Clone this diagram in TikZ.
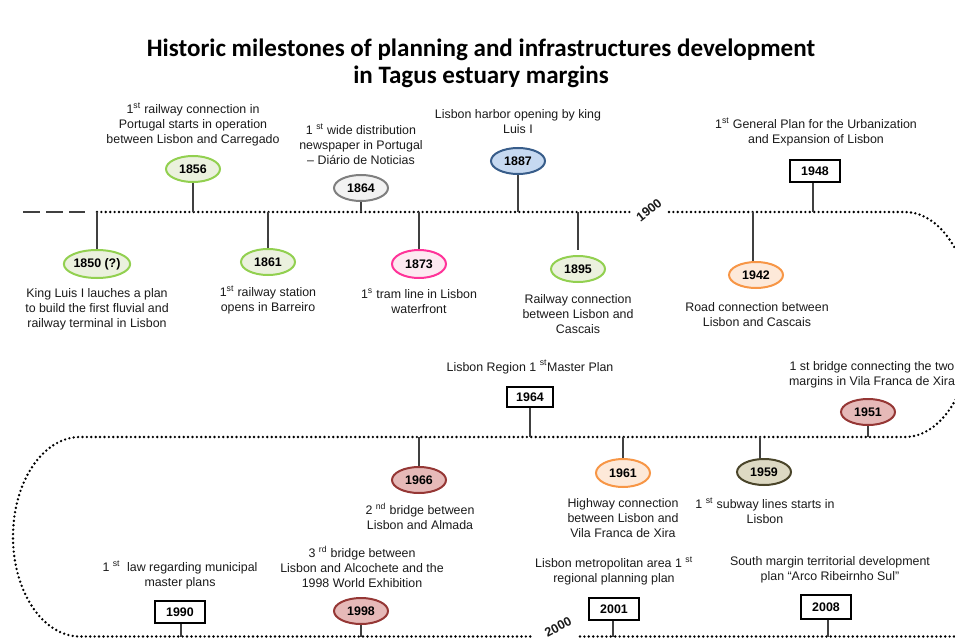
\documentclass[tikz,border=0pt]{standalone}
\usepackage{fontspec}
\setmainfont{Liberation Sans}
\newfontfamily\titlefont{Carlito}
\usetikzlibrary{shapes.geometric}
\definecolor{grnB}{HTML}{92D050}
\definecolor{grnF}{HTML}{EBF1DE}
\definecolor{gryB}{HTML}{7F7F7F}
\definecolor{gryF}{HTML}{F2F2F2}
\definecolor{pnkB}{HTML}{FF3399}
\definecolor{pnkF}{HTML}{FDE9F1}
\definecolor{bluB}{HTML}{385D8A}
\definecolor{bluF}{HTML}{C6D9F1}
\definecolor{orgB}{HTML}{F79646}
\definecolor{orgF}{HTML}{FDE9D9}
\definecolor{redB}{HTML}{953735}
\definecolor{redF}{HTML}{E6B9B8}
\definecolor{olvB}{HTML}{4A452A}
\definecolor{olvF}{HTML}{DDD9C3}
\definecolor{stemc}{HTML}{404040}
\definecolor{txtc}{HTML}{1A1A1A}
\begin{document}
\begin{tikzpicture}[x=0.75pt,y=-0.75pt,
  txt/.style={font=\fontsize{9.3}{11.2}\selectfont, align=center, inner sep=0pt, text=txtc},
  yr/.style={ellipse, line width=1.5pt, minimum width=40.5pt, minimum height=19.5pt, inner sep=0pt, font=\fontsize{9.3}{11}\selectfont\bfseries},
  grn/.style={yr, draw=grnB, fill=grnF},
  gry/.style={yr, draw=gryB, fill=gryF},
  pnk/.style={yr, draw=pnkB, fill=pnkF},
  blu/.style={yr, draw=bluB, fill=bluF},
  org/.style={yr, draw=orgB, fill=orgF},
  red/.style={yr, draw=redB, fill=redF},
  olv/.style={yr, draw=olvB, fill=olvF},
  ybox/.style={rectangle, draw=black, fill=white, line width=1.5pt, minimum width=37.5pt, minimum height=16pt, inner sep=0pt, font=\fontsize{9.3}{11}\selectfont\bfseries},
  stem/.style={draw=stemc, line width=1.3pt},
  dotline/.style={draw=black, line width=2pt, dash pattern=on 0pt off 3.3pt, line cap=round},
  dashline/.style={draw=stemc, line width=1.5pt, dash pattern=on 12.75pt off 4.5pt},
  era/.style={font=\fontsize{9.5}{10}\selectfont\bfseries, inner sep=0pt, text=txtc}
]
\useasboundingbox (0,0) rectangle (955,638);
\clip (0,0) rectangle (955,638);

% title
\node[font=\titlefont\bfseries\fontsize{18.8}{20.5}\selectfont, align=center, inner sep=0pt] (title) at (481,63)
  {Historic milestones of planning and infrastructures development\\in Tagus estuary margins};

% timeline coordinates
\coordinate (d0) at (23,212);
\coordinate (d1) at (85,212);
\coordinate (a0) at (97,212);
\coordinate (a1) at (630,212);
\coordinate (b0) at (669,212);
\coordinate (b1) at (905,212);
\coordinate (m1) at (80,437);
\coordinate (c1) at (533,636.5);
\coordinate (c2) at (580,636.5);
\coordinate (c3) at (960,636.5);

\draw[dashline] (d0) -- (d1);
\draw[dotline] (a0) -- (a1);
\draw[dotline] (b0) -- (b1) arc[start angle=-90, end angle=90, x radius=68, y radius=112.5] -- (m1)
  arc[start angle=-90, end angle=-270, x radius=67, y radius=99.75] -- (c1);
\draw[dotline] (c2) -- (c3);

\node[era, rotate=38] (e1900) at (649,210) {1900};
\node[era, rotate=28] (e2000) at (558,627) {2000};

% ---- upper row, above line
\node[grn] (y1856) at (193,169) {1856};
\node[gry] (y1864) at (361,188) {1864};
\node[blu] (y1887) at (518,161) {1887};
\node[ybox] (y1948) at (815,171) {1948};
\coordinate (s1856) at (193,212);
\coordinate (s1864) at (361,212);
\coordinate (s1887) at (518,212);
\coordinate (s1948) at (813,212);
\draw[stem] (y1856) -- (s1856);
\draw[stem] (y1864) -- (s1864);
\draw[stem] (y1887) -- (s1887);
\draw[stem] (y1948.south -| s1948) -- (s1948);

\node[txt] (t1856) at (193,124) {1\textsuperscript{st} railway connection in\\Portugal starts in operation\\between Lisbon and Carregado};
\node[txt] (t1864) at (361,144) {1 \textsuperscript{st} wide distribution\\newspaper in Portugal\\– Diário de Noticias};
\node[txt] (t1887) at (518,122) {Lisbon harbor opening by king\\Luis I};
\node[txt] (t1948) at (816,132) {1\textsuperscript{st} General Plan for the Urbanization\\and Expansion of Lisbon};

% ---- upper row, below line
\node[grn, minimum width=47pt, minimum height=21pt] (y1850) at (97,264) {1850 (?)};
\node[grn] (y1861) at (268,262) {1861};
\node[pnk, minimum height=21pt] (y1873) at (419,264) {1873};
\node[grn] (y1895) at (578,269) {1895};
\node[org] (y1942) at (756,275) {1942};
\coordinate (s1850) at (97,212);
\coordinate (s1861) at (268,212);
\coordinate (s1873) at (419,212);
\coordinate (s1895) at (578,212);
\coordinate (s1942) at (753,212);
\draw[stem] (y1850) -- (s1850);
\draw[stem] (y1861) -- (s1861);
\draw[stem] (y1873) -- (s1873);
\draw[stem] (s1895) -- ++(0,38) coordinate (u1895);
\draw[stem] (y1942.north -| s1942) -- (s1942);

\node[txt] (t1850) at (97,309) {King Luis I lauches a plan\\to build the first fluvial and\\railway terminal in Lisbon};
\node[txt] (t1861) at (268,300) {1\textsuperscript{st} railway station\\opens in Barreiro};
\node[txt] (t1873) at (419,301) {1\textsuperscript{s} tram line in Lisbon\\waterfront};
\node[txt] (t1895) at (578,314) {Railway connection\\between Lisbon and\\Cascais};
\node[txt] (t1942) at (757,315) {Road connection between\\Lisbon and Cascais};

% ---- middle row
\node[ybox, minimum width=35pt, minimum height=15pt] (y1964) at (530,397) {1964};
\node[red] (y1951) at (868,412) {1951};
\node[red] (y1966) at (419,480) {1966};
\node[org, minimum height=21pt] (y1961) at (623,473) {1961};
\node[olv] (y1959) at (764,472) {1959};
\coordinate (s1964) at (530,437);
\coordinate (s1951) at (868,437);
\coordinate (s1966) at (419,437);
\coordinate (s1961) at (623,437);
\coordinate (s1959) at (760,437);
\draw[stem] (y1964) -- (s1964);
\draw[stem] (y1951) -- (s1951);
\draw[stem] (y1966) -- (s1966);
\draw[stem] (s1961) -- ++(0,21) coordinate (u1961);
\draw[stem] (y1959.north -| s1959) -- (s1959);

\node[txt] (t1964) at (530,367) {Lisbon Region 1 \textsuperscript{st}Master Plan};
\node[txt] (t1951) at (872,375) {1 st bridge connecting the two\\margins in Vila Franca de Xira};
\node[txt] (t1966) at (420,516) {2 \textsuperscript{nd} bridge between\\Lisbon and Almada};
\node[txt] (t1961) at (623,518) {Highway connection\\between Lisbon and\\Vila Franca de Xira};
\node[txt] (t1959) at (765,511) {1 \textsuperscript{st} subway lines starts in\\Lisbon};

% ---- bottom row
\node[ybox] (y1990) at (180,612) {1990};
\node[red] (y1998) at (361,611) {1998};
\node[ybox] (y2001) at (614,609) {2001};
\node[ybox, minimum height=18pt] (y2008) at (826,607) {2008};
\coordinate (s1990) at (181,637);
\coordinate (s1998) at (361,637);
\coordinate (s2001) at (613,637);
\coordinate (s2008) at (828,637);
\draw[stem] (y1990.south -| s1990) -- (s1990);
\draw[stem] (y1998) -- (s1998);
\draw[stem] (y2001.south -| s2001) -- (s2001);
\draw[stem] (y2008.south -| s2008) -- (s2008);

\node[txt] (t1990) at (180,575) {1 \textsuperscript{st}\ \ law regarding municipal\\master plans};
\node[txt] (t1998) at (362,567) {3 \textsuperscript{rd} bridge between\\Lisbon and Alcochete and the\\1998 World Exhibition};
\node[txt] (t2001) at (614,571) {Lisbon metropolitan area 1 \textsuperscript{st}\\regional planning plan};
\node[txt] (t2008) at (830,570) {South margin territorial development\\plan “Arco Ribeirnho Sul”};
\end{tikzpicture}
\end{document}
